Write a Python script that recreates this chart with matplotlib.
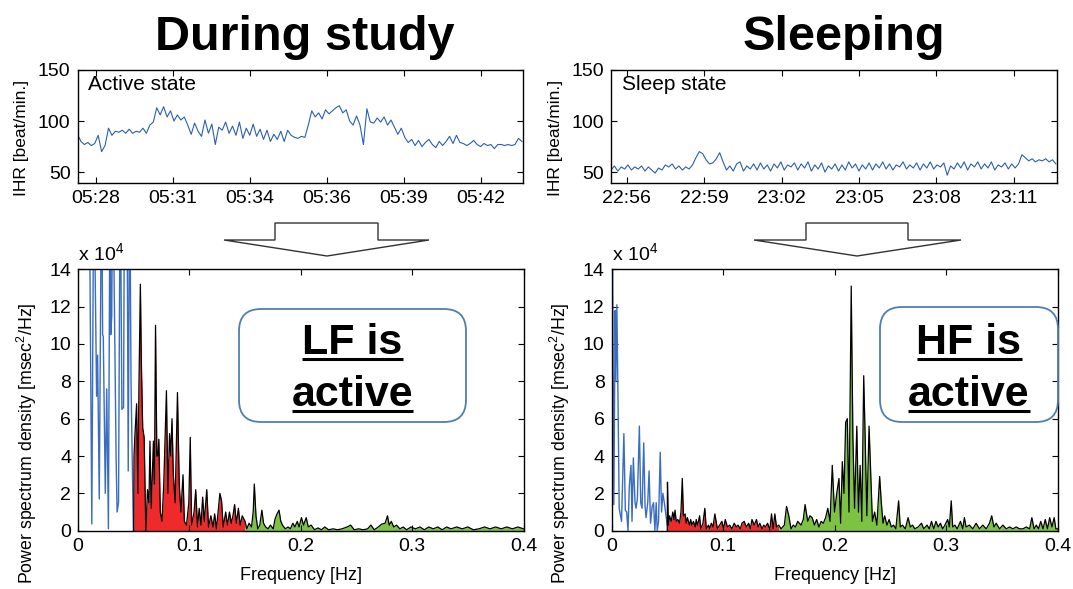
import numpy as np
import matplotlib
matplotlib.use('Agg')
import matplotlib.pyplot as plt
from matplotlib.patches import FancyBboxPatch, Polygon
from matplotlib.lines import Line2D
from matplotlib.transforms import IdentityTransform

plt.rcParams['font.family'] = ['Liberation Sans', 'DejaVu Sans']
plt.rcParams['mathtext.fontset'] = 'custom'
plt.rcParams['mathtext.rm'] = 'Liberation Sans'
plt.rcParams['mathtext.it'] = 'Liberation Sans:italic'
plt.rcParams['mathtext.bf'] = 'Liberation Sans:bold'

# ---------------- data ----------------
titles = ['During study', 'Sleeping']
state_labels = ['Active state', 'Sleep state']
box_texts = [['LF is', 'active'], ['HF is', 'active']]

active_ticks = [0.66, 3.46, 6.26, 9.06, 11.86, 14.66]
active_ticklabels = ['05:28', '05:31', '05:34', '05:36', '05:39', '05:42']
active_span = 16.2
sleep_ticks = [0.57, 3.37, 6.17, 8.97, 11.77, 14.57]
sleep_ticklabels = ['22:56', '22:59', '23:02', '23:05', '23:08', '23:11']
sleep_span = 16.13

# instantaneous heart rate [beat/min], evenly sampled over the record
hr_active = [87, 80, 77, 79, 76, 78, 86, 70, 76, 93,
             86, 90, 89, 91, 88, 92, 88, 90, 89, 93,
             88, 96, 99, 113, 106, 114, 104, 110, 100, 106,
             101, 104, 96, 87, 98, 90, 85, 101, 88, 97,
             77, 94, 91, 99, 88, 95, 86, 99, 83, 93,
             86, 97, 85, 92, 82, 91, 80, 87, 82, 90,
             80, 91, 86, 84, 83, 85, 84, 96, 110, 104,
             108, 102, 111, 107, 110, 113, 115, 108, 111, 100,
             96, 105, 96, 77, 112, 99, 98, 103, 99, 104,
             96, 101, 94, 87, 93, 84, 79, 82, 76, 81,
             75, 79, 82, 77, 74, 80, 76, 80, 85, 78,
             86, 79, 78, 76, 78, 81, 77, 75, 78, 76,
             77, 73, 77, 77, 76, 77, 76, 77, 83, 80]
hr_sleep = [52, 56, 51, 55, 53, 57, 52, 55, 53, 56,
            51, 55, 52, 49, 54, 52, 57, 55, 58, 53,
            56, 52, 55, 53, 57, 64, 70, 68, 62, 58,
            59, 63, 69, 60, 52, 56, 51, 58, 60, 51,
            56, 53, 58, 52, 59, 53, 57, 51, 58, 54,
            60, 52, 57, 55, 59, 52, 58, 54, 60, 51,
            57, 53, 59, 50, 56, 53, 58, 51, 57, 52,
            60, 54, 58, 51, 57, 53, 59, 52, 58, 54,
            60, 53, 58, 52, 57, 55, 60, 53, 57, 54,
            59, 52, 58, 54, 60, 53, 57, 55, 59, 47,
            56, 53, 59, 54, 60, 52, 58, 55, 60, 53,
            58, 54, 60, 52, 57, 55, 59, 53, 58, 54,
            58, 67, 64, 61, 63, 60, 62, 61, 63, 60,
            62, 58]

# power spectral density [x 10^4 msec^2/Hz]
# --- during study ---
act_vlf_f = [0.0, 0.0100, 0.0124, 0.0142, 0.0167, 0.0176, 0.0191, 0.0212, 0.0221, 0.0227,
             0.0245, 0.0258, 0.0273, 0.0288, 0.0294, 0.0303, 0.0312, 0.0342, 0.0351, 0.0364,
             0.0379, 0.0394, 0.0409, 0.0418, 0.0439, 0.0451, 0.0464, 0.0476, 0.0497]
act_vlf_p = [30, 20, 0.36, 20, 7.2, 9.4, 1.7, 20, 10.5, 10.4,
             2.0, 7.6, 0.1, 20, 10.5, 11.5, 20, 4.0, 1.0, 1.5,
             20, 6.5, 6.6, 20, 20, 3.2, 20, 8.0, 0.0]
act_lf_f = [0.0500, 0.0503, 0.0510, 0.0526, 0.0538, 0.0547, 0.0560, 0.0569, 0.0581, 0.0594,
            0.0609, 0.0624, 0.0637, 0.0646, 0.0658, 0.0677, 0.0686, 0.0696, 0.0708, 0.0717,
            0.0726, 0.0739, 0.0754, 0.0770, 0.0794, 0.0807, 0.0822, 0.0832, 0.0844, 0.0856,
            0.0872, 0.0893, 0.0909, 0.0924, 0.0943, 0.0955, 0.0974, 0.0995, 0.1008, 0.1020,
            0.1042, 0.1057, 0.1073, 0.1088, 0.1104, 0.1119, 0.1134, 0.1156, 0.1172, 0.1193,
            0.1212, 0.1227, 0.1243, 0.1274, 0.1289, 0.1304, 0.1326, 0.1342, 0.1360, 0.1376,
            0.1391, 0.1406, 0.1422, 0.1440, 0.1456, 0.1475, 0.1500]
act_lf_p = [0.0, 4.0, 5.0, 6.8, 2.0, 7.7, 13.2, 9.0, 5.5, 5.0,
            0.0, 2.2, 1.5, 4.8, 1.2, 4.8, 2.5, 11.0, 4.0, 4.0,
            4.9, 1.0, 0.5, 2.5, 7.5, 2.0, 5.2, 4.0, 6.0, 3.0,
            1.5, 7.4, 2.5, 1.0, 3.0, 0.5, 0.3, 1.5, 5.0, 0.3,
            1.0, 2.2, 0.2, 1.2, 0.3, 1.8, 0.5, 2.2, 0.2, 0.8,
            0.2, 0.9, 0.1, 2.0, 1.6, 0.2, 1.0, 0.3, 1.0, 0.4,
            0.8, 1.4, 0.4, 1.2, 0.3, 0.8, 0.5]
act_hf_f = [0.1500, 0.1515, 0.1536, 0.1558, 0.1573, 0.1583, 0.1598, 0.1614, 0.1632, 0.1651,
            0.1666, 0.1685, 0.1706, 0.1728, 0.1753, 0.1768, 0.1787, 0.1805, 0.1821, 0.1836,
            0.1861, 0.1886, 0.1907, 0.1929, 0.1947, 0.1969, 0.1985, 0.2006, 0.2025, 0.2049,
            0.2068, 0.2093, 0.2124, 0.2155, 0.2185, 0.2216, 0.2250, 0.2290, 0.2330, 0.2370,
            0.2417, 0.2448, 0.2480, 0.2520, 0.2560, 0.2600, 0.2630, 0.2660, 0.2696, 0.2726,
            0.2757, 0.2779, 0.2794, 0.2813, 0.2835, 0.2860, 0.2890, 0.2920, 0.2950, 0.2990,
            0.3030, 0.3070, 0.3110, 0.3150, 0.3190, 0.3230, 0.3270, 0.3310, 0.3350, 0.3400,
            0.3450, 0.3500, 0.3550, 0.3600, 0.3650, 0.3700, 0.3750, 0.3800, 0.3850, 0.3900,
            0.3950, 0.4000]
act_hf_p = [0.5, 0.1, 0.4, 0.2, 1.0, 2.5, 0.8, 0.1, 0.3, 1.1,
            0.4, 0.2, 0.1, 0.3, 0.1, 0.6, 0.9, 1.1, 0.5, 0.3,
            0.1, 0.2, 0.1, 0.4, 0.2, 0.5, 0.2, 0.7, 0.3, 0.7,
            0.2, 0.3, 0.05, 0.15, 0.05, 0.2, 0.05, 0.1, 0.05, 0.1,
            0.2, 0.3, 0.05, 0.1, 0.05, 0.1, 0.3, 0.05, 0.2, 0.35,
            0.4, 0.8, 0.3, 0.5, 0.2, 0.3, 0.1, 0.2, 0.05, 0.2,
            0.1, 0.2, 0.05, 0.2, 0.1, 0.2, 0.05, 0.2, 0.1, 0.2,
            0.1, 0.2, 0.05, 0.1, 0.2, 0.1, 0.2, 0.1, 0.2, 0.1,
            0.2, 0.1]
# --- sleeping ---
slp_vlf_f = [0.0, 0.0009, 0.0021, 0.0033, 0.0039, 0.0048, 0.0057, 0.0069, 0.0090, 0.0111,
             0.0124, 0.0136, 0.0148, 0.0160, 0.0175, 0.0184, 0.0196, 0.0211, 0.0220, 0.0232,
             0.0250, 0.0262, 0.0274, 0.0289, 0.0301, 0.0310, 0.0325, 0.0337, 0.0350, 0.0365,
             0.0377, 0.0389, 0.0401, 0.0410, 0.0422, 0.0437, 0.0449, 0.0461, 0.0476, 0.0491,
             0.0500]
slp_vlf_p = [16, 15, 1.4, 11.8, 8.0, 12.1, 7.8, 1.2, 0.5, 5.2,
             1.1, 1.0, 0.0, 2.4, 3.5, 0.5, 3.9, 1.5, 1.2, 1.7,
             5.6, 1.5, 1.2, 4.7, 1.3, 0.7, 1.5, 3.2, 0.4, 1.3,
             1.5, 0.0, 1.5, 0.0, 0.5, 4.2, 1.0, 2.0, 1.4, 0.7,
             0.3]
slp_lf_f = [0.0500, 0.0502, 0.0510, 0.0520, 0.0535, 0.0550, 0.0560, 0.0570, 0.0580, 0.0595,
            0.0610, 0.0623, 0.0635, 0.0645, 0.0660, 0.0670, 0.0680, 0.0700, 0.0710, 0.0720,
            0.0735, 0.0750, 0.0760, 0.0770, 0.0780, 0.0790, 0.0800, 0.0820, 0.0837, 0.0850,
            0.0870, 0.0880, 0.0895, 0.0910, 0.0927, 0.0950, 0.0970, 0.0990, 0.1005, 0.1020,
            0.1040, 0.1060, 0.1080, 0.1100, 0.1120, 0.1135, 0.1155, 0.1170, 0.1190, 0.1210,
            0.1230, 0.1245, 0.1260, 0.1280, 0.1300, 0.1315, 0.1330, 0.1350, 0.1365, 0.1380,
            0.1400, 0.1420, 0.1435, 0.1450, 0.1465, 0.1480, 0.1500]
slp_lf_p = [0.0, 2.6, 0.3, 0.8, 0.5, 1.0, 0.6, 1.1, 0.5, 0.6,
            0.4, 1.0, 2.8, 0.8, 0.9, 0.4, 0.7, 0.3, 0.6, 0.3,
            0.5, 0.2, 0.6, 0.3, 0.5, 0.8, 0.1, 0.4, 1.2, 0.1,
            0.3, 0.1, 0.4, 0.2, 0.9, 0.1, 0.3, 0.5, 0.1, 0.6,
            0.2, 0.3, 0.1, 0.4, 0.2, 0.3, 0.1, 0.4, 0.5, 0.2,
            0.4, 0.1, 0.6, 0.3, 0.6, 0.2, 0.4, 0.1, 0.3, 0.2,
            0.4, 0.05, 0.9, 0.1, 0.9, 0.2, 0.3]
slp_hf_f = [0.1500, 0.1520, 0.1550, 0.1570, 0.1590, 0.1610, 0.1630, 0.1650, 0.1670, 0.1700,
            0.1720, 0.1736, 0.1760, 0.1780, 0.1800, 0.1820, 0.1840, 0.1860, 0.1880, 0.1900,
            0.1920, 0.1940, 0.1960, 0.1980, 0.2000, 0.2020, 0.2040, 0.2055, 0.2070, 0.2085,
            0.2100, 0.2115, 0.2130, 0.2150, 0.2165, 0.2180, 0.2200, 0.2215, 0.2230, 0.2245,
            0.2262, 0.2275, 0.2290, 0.2310, 0.2325, 0.2340, 0.2360, 0.2380, 0.2405, 0.2420,
            0.2435, 0.2450, 0.2470, 0.2490, 0.2510, 0.2530, 0.2550, 0.2575, 0.2590, 0.2610,
            0.2635, 0.2660, 0.2680, 0.2700, 0.2720, 0.2750, 0.2780, 0.2800, 0.2830, 0.2850,
            0.2870, 0.2890, 0.2910, 0.2930, 0.2950, 0.2970, 0.2990, 0.3015, 0.3030, 0.3047,
            0.3060, 0.3080, 0.3100, 0.3130, 0.3150, 0.3165, 0.3180, 0.3210, 0.3240, 0.3270,
            0.3300, 0.3330, 0.3360, 0.3390, 0.3410, 0.3430, 0.3450, 0.3480, 0.3510, 0.3540,
            0.3570, 0.3600, 0.3630, 0.3660, 0.3690, 0.3720, 0.3750, 0.3770, 0.3790, 0.3810,
            0.3830, 0.3850, 0.3870, 0.3890, 0.3910, 0.3930, 0.3950, 0.3970, 0.3985, 0.4000]
slp_hf_p = [0.3, 0.1, 0.3, 1.3, 0.8, 0.1, 0.3, 0.2, 0.5, 0.3,
            0.6, 1.4, 0.5, 0.8, 0.7, 0.3, 0.6, 0.2, 0.5, 0.4,
            0.7, 1.2, 0.5, 3.5, 1.0, 2.0, 2.8, 0.4, 3.7, 2.0,
            5.8, 6.0, 1.0, 13.1, 5.0, 1.2, 5.6, 1.0, 3.5, 0.5,
            8.3, 5.0, 0.8, 5.6, 3.0, 0.5, 1.0, 0.3, 2.9, 1.5,
            0.4, 0.8, 0.3, 0.6, 0.2, 0.3, 0.1, 1.6, 0.2, 0.3,
            0.1, 0.7, 0.2, 0.3, 0.1, 0.2, 0.4, 0.1, 0.3, 0.1,
            0.5, 0.1, 0.5, 0.2, 0.4, 0.1, 0.3, 0.6, 0.2, 1.6,
            0.2, 0.3, 0.1, 0.5, 0.1, 0.7, 0.2, 0.3, 0.1, 0.4,
            0.1, 0.3, 0.1, 0.4, 0.8, 0.2, 0.4, 0.1, 0.3, 0.1,
            0.2, 0.1, 0.2, 0.1, 0.1, 0.2, 0.1, 0.7, 0.1, 0.3,
            0.1, 0.5, 0.1, 0.6, 0.1, 0.7, 0.2, 0.7, 0.1, 0.1]

# ---------------- styling ----------------
W, H = 1073, 589
HR_BLUE = '#2b5fb3'
PSD_BLUE = '#3a6cc2'
LF_RED = '#ee2a2a'
HF_GREEN = '#7cc243'
BOX_EDGE = '#4f7fae'

fig = plt.figure(figsize=(W / 100, H / 100), dpi=100)


def ax_at(l, t, r, b):
    return fig.add_axes([l / W, 1 - b / H, (r - l) / W, (b - t) / H])


def style(ax):
    ax.tick_params(direction='in', top=True, right=True, length=4, width=0.8,
                   labelsize=14, pad=5)
    for s in ax.spines.values():
        s.set_linewidth(1.0)


cols = [
    dict(l=77.5, r=523, hr=hr_active, span=active_span, ticks=active_ticks,
         tl=active_ticklabels,
         vlf=(act_vlf_f, act_vlf_p), lf=(act_lf_f, act_lf_p), hf=(act_hf_f, act_hf_p),
         title_x=305, box=(239, 309, 466, 422)),
    dict(l=611, r=1057, hr=hr_sleep, span=sleep_span, ticks=sleep_ticks,
         tl=sleep_ticklabels,
         vlf=(slp_vlf_f, slp_vlf_p), lf=(slp_lf_f, slp_lf_p), hf=(slp_hf_f, slp_hf_p),
         title_x=844, box=(880, 307, 1058, 422)),
]

for i, c in enumerate(cols):
    # --- title ---
    fig.text(c['title_x'] / W, 1 - 50 / H, titles[i], ha='center', va='baseline',
             fontsize=35, fontweight='bold')

    # --- heart rate ---
    ax = ax_at(c['l'], 70, c['r'], 183.3)
    t = np.linspace(0, c['span'] - 0.04, len(c['hr']))
    ax.plot(t, c['hr'], color=HR_BLUE, lw=0.8)
    ax.set_xlim(0, c['span'])
    ax.set_ylim(39, 150)
    ax.set_yticks([50, 100, 150])
    ax.set_xticks(c['ticks'])
    ax.set_xticklabels(c['tl'])
    style(ax)
    ax.set_ylabel('IHR [beat/min.]', fontsize=12.5, va='center')
    ax.yaxis.set_label_coords(-0.125, 0.40)
    ax.text(0.024, 0.87, state_labels[i], transform=ax.transAxes, fontsize=15,
            va='center', ha='left')

    # --- spectrum ---
    bx = ax_at(c['l'] + 0.5, 269.3, c['r'] + 0.5, 530.7)
    vf, vp = c['vlf']
    lf_f, lf_p = c['lf']
    hf_f, hf_p = c['hf']
    bx.fill_between(lf_f, 0, lf_p, color=LF_RED, lw=0)
    bx.fill_between(hf_f, 0, hf_p, color=HF_GREEN, lw=0)
    bx.plot(vf, vp, color=PSD_BLUE, lw=1.0)
    bx.plot(list(lf_f) + list(hf_f), list(lf_p) + list(hf_p), color='black', lw=0.9)
    bx.set_xlim(0, 0.4)
    bx.set_ylim(0, 14)
    bx.set_xticks([0, 0.1, 0.2, 0.3, 0.4])
    bx.set_xticklabels(['0', '0.1', '0.2', '0.3', '0.4'])
    bx.set_yticks(range(0, 15, 2))
    style(bx)
    bx.set_xlabel('Frequency [Hz]', fontsize=13, labelpad=9)
    bx.set_ylabel('Power spectrum density [msec$^2$/Hz]', fontsize=12.8, va='center')
    bx.yaxis.set_label_coords(-0.115, 0.335)
    bx.text(0.0, 1.035, r'x 10$^4$', transform=bx.transAxes, fontsize=14,
            ha='left', va='baseline')

    # --- down arrow ---
    if i == 0:
        pts = [(224, 240), (275, 240), (275, 223), (378, 223), (378, 240), (429, 240), (327, 256)]
    else:
        pts = [(754, 240), (806, 240), (806, 223), (908, 223), (908, 240), (961, 240), (857, 256)]
    poly = Polygon([(x / W, 1 - y / H) for x, y in pts], closed=True,
                   transform=fig.transFigure, facecolor='white', edgecolor='#333333', lw=1.0)
    fig.patches.append(poly)

    # --- rounded text box ---
    x0, y0, x1, y1 = c['box']
    box = FancyBboxPatch((x0, H - y1), x1 - x0, y1 - y0,
                         boxstyle='round,pad=0,rounding_size=22',
                         transform=IdentityTransform(), facecolor='none',
                         edgecolor=BOX_EDGE, lw=1.3, zorder=5)
    fig.patches.append(box)

# box texts
text_objs = []
for i, c in enumerate(cols):
    x0, y0, x1, y1 = c['box']
    cx = (x0 + x1) / 2
    for j, base in enumerate([354.3, 405.7]):
        tx = fig.text(cx / W, 1 - base / H, box_texts[i][j], ha='center', va='baseline',
                      fontsize=31, fontweight='bold', zorder=6)
        text_objs.append((tx, base))

fig.canvas.draw()
r = fig.canvas.get_renderer()
for tx, base in text_objs:
    bb = tx.get_window_extent(r)
    yline = H - (base + 5)
    fig.add_artist(Line2D([bb.x0, bb.x1], [yline, yline], transform=IdentityTransform(),
                          color='black', lw=2.2, solid_capstyle='butt'))

fig.savefig('out.png', dpi=100)
